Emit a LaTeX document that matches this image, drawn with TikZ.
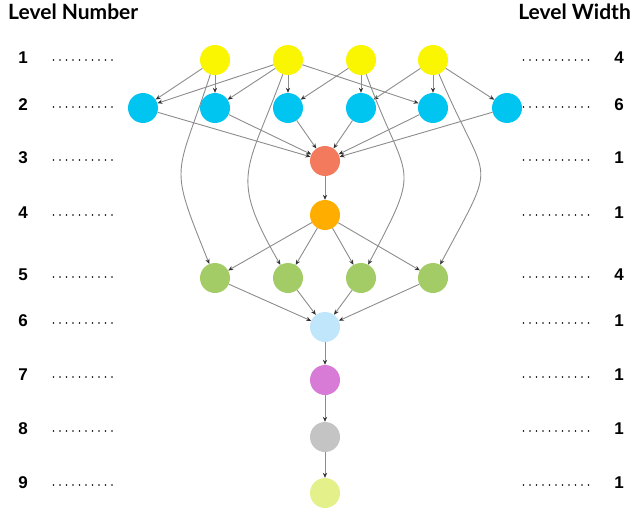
\documentclass[tikz,border=0pt]{standalone}
\usepackage{fontspec}
\setmainfont{Liberation Sans}
\newfontfamily\hdrfont{Lato}
\usetikzlibrary{arrows.meta}
\definecolor{cyel}{HTML}{FAF500}
\definecolor{cblue}{HTML}{00C5F0}
\definecolor{csalmon}{HTML}{F47A5E}
\definecolor{corange}{HTML}{FFAE00}
\definecolor{cgreen}{HTML}{A3CC66}
\definecolor{clblue}{HTML}{BFE6FA}
\definecolor{cmag}{HTML}{D77BD7}
\definecolor{cgrey}{HTML}{C4C4C4}
\definecolor{cpale}{HTML}{E4F08A}
\definecolor{edgegray}{HTML}{8C8C8C}
\definecolor{arrowgray}{HTML}{333333}
\begin{document}
\begin{tikzpicture}[x=1pt,y=-1pt,
  vtx/.style={circle,minimum size=30pt,inner sep=0pt,draw=none},
  edge/.style={draw=edgegray,line width=0.9pt,-{Stealth[length=5pt,width=4.2pt,color=arrowgray]}},
  hdr/.style={font=\hdrfont\bfseries\fontsize{21}{24}\selectfont,inner sep=0pt},
  num/.style={font=\bfseries\fontsize{17}{19}\selectfont,inner sep=0pt},
  dotrow/.style={line width=1.6pt,line cap=round,dash pattern=on 0pt off 6.5pt,draw=black}
]
\useasboundingbox (0,0) rectangle (632,514);

% headers
\node[hdr,anchor=west] (hl) at (8,12) {Level Number};
\node[hdr,anchor=east] (hr) at (631,12) {Level Width};

% level labels and dotted leaders
\foreach \lv/\ty/\dy/\w in {1/58/60/4, 2/105/107/6, 3/158/160/1, 4/213/215/1, 5/275/277/4, 6/321/323/1, 7/375/377/1, 8/429/431/1, 9/483/485/1}{
  \node[num] (ln\lv) at (23,\ty) {\lv};
  \node[num] (rw\lv) at (619,\ty) {\w};
  \coordinate (dla\lv) at (53.5,\dy);
  \coordinate (dlb\lv) at (118.5,\dy);
  \coordinate (dra\lv) at (523.5,\dy);
  \coordinate (drb\lv) at (588.5,\dy);
  \draw[dotrow] (dla\lv) -- (dlb\lv);
  \draw[dotrow] (dra\lv) -- (drb\lv);
}

% nodes
\node[vtx,fill=cyel] (y1) at (215,60) {};
\node[vtx,fill=cyel] (y2) at (288,60) {};
\node[vtx,fill=cyel] (y3) at (361,60) {};
\node[vtx,fill=cyel] (y4) at (433,60) {};

\node[vtx,fill=cblue] (b1) at (143,108) {};
\node[vtx,fill=cblue] (b2) at (215,108) {};
\node[vtx,fill=cblue] (b3) at (288,108) {};
\node[vtx,fill=cblue] (b4) at (361,108) {};
\node[vtx,fill=cblue] (b5) at (433,108) {};
\node[vtx,fill=cblue] (b6) at (507,108) {};

\node[vtx,fill=csalmon] (r) at (325,161) {};
\node[vtx,fill=corange] (o) at (325,215) {};

\node[vtx,fill=cgreen] (g1) at (215,278) {};
\node[vtx,fill=cgreen] (g2) at (288,278) {};
\node[vtx,fill=cgreen] (g3) at (361,278) {};
\node[vtx,fill=cgreen] (g4) at (433,278) {};

\node[vtx,fill=clblue] (lb) at (325,327) {};
\node[vtx,fill=cmag] (m) at (325,380) {};
\node[vtx,fill=cgrey] (gr) at (325,437) {};
\node[vtx,fill=cpale] (p) at (325,493) {};

% level 1 -> level 2
\draw[edge] (y1) -- (b1);
\draw[edge] (y1) -- (b2);
\draw[edge] (y2) -- (b1);
\draw[edge] (y2) -- (b2);
\draw[edge] (y2) -- (b3);
\draw[edge] (y2) -- (b5);
\draw[edge] (y3) -- (b3);
\draw[edge] (y3) -- (b4);
\draw[edge] (y4) -- (b4);
\draw[edge] (y4) -- (b5);
\draw[edge] (y4) -- (b6);

% long curves level 1 -> level 5
\draw[edge] (y1) to[out=-108,in=112,looseness=1.5] (g1);
\draw[edge] (y2) to[out=-110,in=120,looseness=1.4] (g2);
\draw[edge] (y3) to[out=-70,in=62,looseness=1.6] (g3);
\draw[edge] (y4) to[out=-67,in=62,looseness=1.7] (g4);

% level 2 -> level 3
\foreach \i in {1,...,6}{ \draw[edge] (b\i) -- (r); }

% level 3 -> 4 -> 5
\draw[edge] (r) -- (o);
\foreach \i in {1,...,4}{ \draw[edge] (o) -- (g\i); }

% level 5 -> 6 -> 9
\foreach \i in {1,...,4}{ \draw[edge] (g\i) -- (lb); }
\draw[edge] (lb) -- (m);
\draw[edge] (m) -- (gr);
\draw[edge] (gr) -- (p);
\end{tikzpicture}
\end{document}
